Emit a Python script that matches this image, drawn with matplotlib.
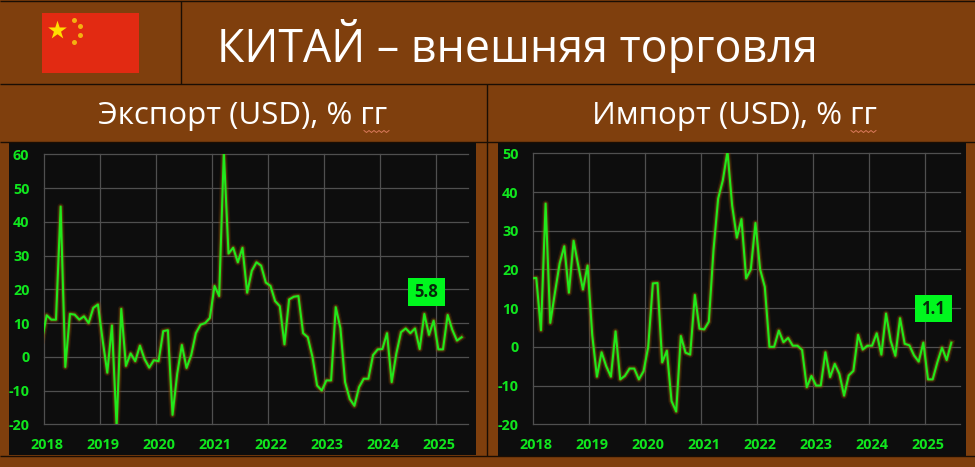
import numpy as np
import matplotlib
matplotlib.use("Agg")
import matplotlib.pyplot as plt
import matplotlib.patheffects as pe
from matplotlib.patches import Rectangle
from matplotlib.transforms import ScaledTranslation

export_vals = [5, 12.3, 11, 11, 44.5, -3, 12.7, 12.5, 11, 12, 10, 14.5, 15.5,
               5, -4.7, 9.3, -20.5, 14.2, -2.7, 1, -1.3, 3.3, -0.7, -3.2, -1,
               -1.3, 7.6, 7.9, -17.2, -5, 3.5, -3.3, 0.5, 7, 9.5, 10, 11.5,
               21, 18, 60.6, 30.6, 32.3, 28, 32.3, 19,
               25.5, 28, 27, 22, 21, 16.5, 15, 3.7, 17, 17.8, 18, 7, 5.8, 0,
               -8.5, -10, -7, -7, 14.7, 8.5, -7.5, -12.5, -14.5, -9, -6.5,
               -6.5, 0.5, 2.2, 2.3, 7, -7.5, 1, 7.3, 8.4, 7, 8.4, 2.3, 12.7,
               6.5, 10.7, 2.2, 2.2, 12.4, 8, 4.8, 5.8]
import_vals = [17.7, 17.8, 4.3, 37, 6.2, 14, 21.5, 26, 14, 27.4, 21, 14.8, 21,
               3, -7.7, -1.4, -5, -7.7, 4, -8.4, -7.5, -5.6, -5.6, -8.4, -6.3,
               0, 16.4, 16.5, -4, -1, -14, -16.7, 2.8, -1.5, -2, 13.4, 4.7,
               4.5, 6.5, 25, 38.3, 43, 50.5, 36.5, 28.2, 33, 17.7, 20, 32, 20,
               15.5, 0, 0, 4.2, 1.2, 2.3, 0.3, 0.3, -0.8, -10.4, -7.5, -10,
               -10, -1.4, -7.8, -4.4, -7, -12.6, -7.4, -6.2, 3.1, -0.7, 0.3,
               0.3, 3.5, -2, 8.6, 1.5, -2.3, 7.4, 0.8, 0.4, -2.2, -3.8, 1.1,
               -8.4, -8.4, -4, -0.2, -3.4, 1.1]
year_labels = [2018, 2019, 2020, 2021, 2022, 2023, 2024, 2025]
export_ticks = [-20, -10, 0, 10, 20, 30, 40, 50, 60]
import_ticks = [-20, -10, 0, 10, 20, 30, 40, 50]
export_last = "5.8"
import_last = "1.1"

BROWN = "#7F3F0D"
PANEL = "#0D0D0D"
GREEN = "#22E81C"
TICK = "#10E61E"
GRID = "#4F4F4F"
LINE = "#1A0E04"
FONT = "Open Sans"
W, H = 975, 467

plt.rcParams["font.family"] = FONT
plt.rcParams["axes.unicode_minus"] = False
fig = plt.figure(figsize=(W / 100, H / 100), dpi=100, facecolor=BROWN)

bg = fig.add_axes([0, 0, 1, 1], zorder=0)
bg.set_xlim(0, W)
bg.set_ylim(H, 0)
bg.axis("off")

bg.add_patch(Rectangle((9, 143), 467, 312, fc=PANEL, ec="none"))
bg.add_patch(Rectangle((498, 142), 468, 314, fc=PANEL, ec="none"))
for xs, ys in [((0, W), (1, 1)), ((0, W), (84, 84)), ((0, W), (142, 142)),
               ((0, W), (456, 456)), ((181, 181), (1, 84)),
               ((486.5, 486.5), (84, 456))]:
    bg.plot(xs, ys, color=LINE, lw=1.0, solid_capstyle="butt")

# flag
bg.add_patch(Rectangle((42, 13), 97, 60, fc="#E22A12", ec="none"))
bg.scatter([56.5], [29.5], marker="*", s=200, color="#FFDE00", linewidths=0)
bg.scatter([73.5, 80, 80, 73.5], [19.5, 26, 35, 42], marker="o", s=13,
           color="#F4B010", linewidths=0)

bg.text(517, 46, "КИТАЙ – внешняя торговля", color="white", fontsize=32.2,
        ha="center", va="center", family=FONT)
bg.text(243, 116, "Экспорт (USD), % гг", color="white", fontsize=22.5,
        ha="center", va="center", family=FONT)
bg.text(734, 116, "Импорт (USD), % гг", color="white", fontsize=22.5,
        ha="center", va="center", family=FONT)

# spell-check squiggles
for x0, x1 in [(364, 390), (851, 877)]:
    sx = np.arange(x0, x1, 2.5)
    sy = 131.5 + np.where(np.arange(sx.size) % 2 == 0, -1, 1)
    bg.plot(sx, sy, color="#D9795A", lw=0.7)


def panel(left, right, top, bottom, vals, ticks, offset, xmax):
    ax = fig.add_axes([left / W, 1 - bottom / H, (right - left) / W,
                       (bottom - top) / H], zorder=1)
    ax.set_facecolor("none")
    ax.set_xlim(2018, 2018 + xmax / 12)
    ax.set_ylim(ticks[0], ticks[-1])
    for s in ax.spines.values():
        s.set_visible(False)
    ax.set_xticks(year_labels)
    ax.set_xticklabels([str(y) for y in year_labels])
    ax.set_yticks(ticks)
    ax.grid(True, color=GRID, lw=0.9)
    for g in ax.get_xgridlines() + ax.get_ygridlines():
        g.set_clip_on(False)
    ax.set_axisbelow(True)
    ax.tick_params(axis="both", length=0, colors=TICK, labelsize=10.4)
    ax.tick_params(axis="x", pad=10)
    ax.tick_params(axis="y", pad=10.5)
    shift = ScaledTranslation(3 / 100, 0, fig.dpi_scale_trans)
    for lab in ax.get_xticklabels():
        lab.set_fontweight("bold")
        lab.set_transform(lab.get_transform() + shift)
    for lab in ax.get_yticklabels():
        lab.set_fontweight("bold")
    x = 2018 + (np.arange(len(vals)) - 1 + offset) / 12
    glow = [pe.Stroke(linewidth=4.8, foreground="#7A3C08", alpha=0.25,
                      joinstyle="round"),
            pe.Stroke(linewidth=3.0, foreground="#8A6A10", alpha=0.4,
                      joinstyle="round"),
            pe.Normal()]
    ax.plot(x, vals, color=GREEN, lw=1.5, solid_joinstyle="round",
            path_effects=glow)
    return ax


panel(44, 468.3, 154.3, 424.3, export_vals, export_ticks, 0.57, 91)
panel(533.3, 960, 153.3, 424.3, import_vals, import_ticks, 0.64, 91.5)

ov = fig.add_axes([0, 0, 1, 1], zorder=2)
ov.set_xlim(0, W)
ov.set_ylim(H, 0)
ov.axis("off")
for (x0, y0, w, h, s) in [(408.3, 278.3, 36.7, 28, export_last),
                          (915, 295.3, 36.7, 27, import_last)]:
    ov.add_patch(Rectangle((x0, y0), w, h, fc="#00F71E", ec="none"))
    ov.text(x0 + w / 2, y0 + h / 2, s, color="#062A0A", fontsize=12,
            fontweight="bold", ha="center", va="center", family=FONT)

fig.savefig("out.png", dpi=100, facecolor=BROWN)
